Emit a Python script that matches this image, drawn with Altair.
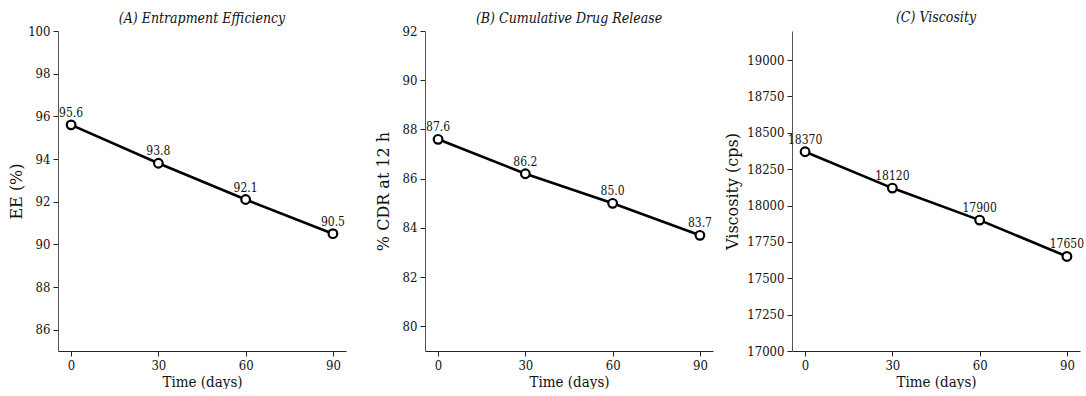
import altair as alt
import pandas as pd

# Stability study: measurements at each storage time point
days = [0, 30, 60, 90]
ee_values = [95.6, 93.8, 92.1, 90.5]
cdr_values = [87.6, 86.2, 85.0, 83.7]
viscosity_values = [18370, 18120, 17900, 17650]

titles = ["(A) Entrapment Efficiency", "(B) Cumulative Drug Release", "(C) Viscosity"]
y_titles = ["EE (%)", "% CDR at 12 h", "Viscosity (cps)"]
y_domains = [[85, 100], [79, 92], [17000, 19200]]
y_ticks = [
    [86, 88, 90, 92, 94, 96, 98, 100],
    [80, 82, 84, 86, 88, 90, 92],
    [17000, 17250, 17500, 17750, 18000, 18250, 18500, 18750, 19000],
]
label_formats = [".1f", ".1f", "d"]
y_extents = [30, 30, 48]
# panels A and B have a tick label at the very top, which pushes the title up
title_offsets = [-1, -1, 6]

COND = "DejaVu Serif Condensed, Liberation Serif, serif"
SERIF = "DejaVu Serif, Liberation Serif, serif"


def panel(values, title, y_title, domain, ticks, fmt, extent, t_off):
    df = pd.DataFrame({"day": days, "value": values})
    x = alt.X(
        "day:Q",
        scale=alt.Scale(domain=[-4.5, 94.5], nice=False, zero=False),
        axis=alt.Axis(values=days, title="Time (days)", grid=False, format="d",
                      titleFont=COND, titleFontSize=15, titleFontWeight="normal",
                      labelFont=COND, labelFontSize=13, tickSize=5, labelPadding=3,
                      titlePadding=2, domainColor="#222", tickColor="#222",
                      labelColor="#111", titleColor="#111"),
    )
    y = alt.Y(
        "value:Q",
        scale=alt.Scale(domain=domain, nice=False, zero=False),
        axis=alt.Axis(values=ticks, title=y_title, grid=False, format="d",
                      titleFont=SERIF, titleFontSize=16, titleFontWeight="normal",
                      labelFont=COND, labelFontSize=13, tickSize=5, labelPadding=3,
                      minExtent=extent, maxExtent=extent, titlePadding=4,
                      domainColor="#555", tickColor="#222",
                      labelColor="#111", titleColor="#111"),
    )
    base = alt.Chart(df)
    line = base.mark_line(color="black", strokeWidth=2.6).encode(x=x, y=y)
    pts = base.mark_point(shape="circle", filled=True, fill="white", stroke="black",
                          strokeWidth=2.2, size=75, opacity=1).encode(x=x, y=y)
    labels = base.mark_text(dy=-12, font=COND, fontSize=12, color="#111").encode(
        x=x, y=y, text=alt.Text("value:Q", format=fmt)
    )
    return alt.layer(line, pts, labels).properties(
        width=288, height=320,
        title=alt.TitleParams(title, font=COND, fontSize=14, fontStyle="italic",
                              fontWeight="normal", color="#111", offset=t_off,
                              frame="group"),
    )


panels = [
    panel(v, t, yt, d, tk, f, e, o)
    for v, t, yt, d, tk, f, e, o in zip(
        [ee_values, cdr_values, viscosity_values], titles, y_titles,
        y_domains, y_ticks, label_formats, y_extents, title_offsets)
]

chart = (
    alt.hconcat(*panels, spacing=79, bounds="flush")
    .properties(padding={"left": 8, "top": 11, "right": 0, "bottom": 0})
    .configure(background="white")
    .configure_view(strokeWidth=0)
)

chart.save("out.html", embed_options={"renderer": "svg", "actions": False})
